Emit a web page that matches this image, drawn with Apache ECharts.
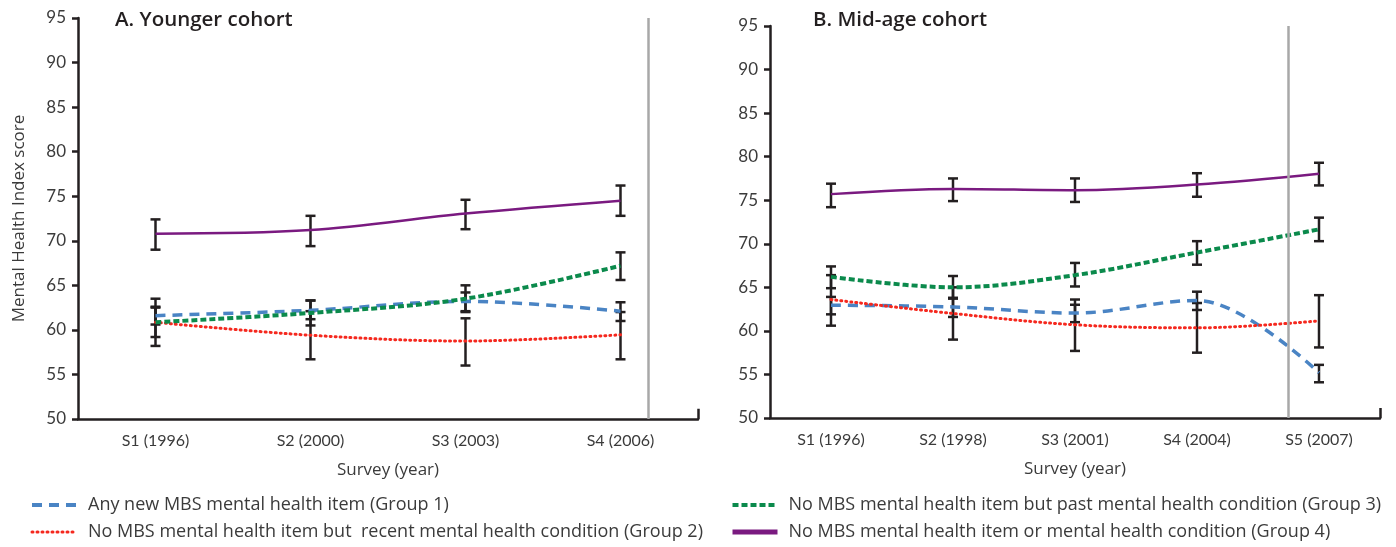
<!DOCTYPE html>
<html>
<head>
<meta charset="utf-8">
<script src="https://cdn.jsdelivr.net/npm/echarts@6/dist/echarts.min.js"></script>
<style>
  html, body { margin: 0; padding: 0; background: #fff; }
  #main { width: 1396px; height: 547px; }
</style>
</head>
<body>
<div id="main"></div>
<script>
// survey waves
const youngerWaves = ['S1 (1996)', 'S2 (2000)', 'S3 (2003)', 'S4 (2006)']
const midWaves = ['S1 (1996)', 'S2 (1998)', 'S3 (2001)', 'S4 (2004)', 'S5 (2007)']
const yTicks = [50, 95, 5]

const groupNames = [
  'Any new MBS mental health item (Group 1)',
  'No MBS mental health item but  recent mental health condition (Group 2)',
  'No MBS mental health item but past mental health condition (Group 3)',
  'No MBS mental health item or mental health condition (Group 4)'
]

// A. younger cohort: mean, lower CI, upper CI
const yG1 = [61.6, 62.2, 63.2, 62.1]
const yG1Lo = [60.6, 61.2, 62.1, 61.0]
const yG1Hi = [62.6, 63.3, 64.2, 63.1]
const yG2 = [60.85, 59.4, 58.75, 59.45]
const yG2Lo = [58.2, 56.7, 56.0, 56.7]
const yG2Hi = [63.5, 62.1, 61.3, 62.0]
const yG3 = [60.85, 61.9, 63.5, 67.2]
const yG3Lo = [59.2, 60.5, 62.0, 65.6]
const yG3Hi = [62.5, 63.3, 65.0, 68.7]
const yG4 = [70.8, 71.2, 73.05, 74.5]
const yG4Lo = [69.0, 69.4, 71.3, 72.8]
const yG4Hi = [72.4, 72.8, 74.6, 76.2]

// B. mid-age cohort
const mG1 = [62.95, 62.75, 62.05, 63.5, 55.2]
const mG1Lo = [61.9, 61.6, 61.0, 62.4, 54.1]
const mG1Hi = [63.9, 63.8, 63.0, 64.5, 56.1]
const mG2 = [63.6, 62.0, 60.7, 60.35, 61.15]
const mG2Lo = [60.6, 59.0, 57.7, 57.5, 58.1]
const mG2Hi = [66.4, 65.0, 63.6, 63.2, 64.1]
const mG3 = [66.2, 65.0, 66.4, 69.0, 71.65]
const mG3Lo = [64.9, 63.7, 65.1, 67.6, 70.3]
const mG3Hi = [67.4, 66.3, 67.8, 70.3, 73.0]
const mG4 = [75.7, 76.3, 76.15, 76.8, 78.05]
const mG4Lo = [74.2, 74.9, 74.8, 75.4, 76.7]
const mG4Hi = [76.9, 77.5, 77.5, 78.1, 79.3]

// grey divider position (in wave index units)
const dividerAt = [3.18, 3.75]

const FONT = 'Lato'
const WIDE = 'Open Sans'
const INK = '#231f20'
const TXT = '#3b3b3b'
const lineStyles = [
  { color: '#4a84c4', width: 3.5, type: [10, 7] },
  { color: '#f5281e', width: 3, type: [1, 4], cap: 'round' },
  { color: '#0b8a4c', width: 4, type: [6, 3] },
  { color: '#7a1a80', width: 2.5, type: 'solid' }
]
// legend swatches are drawn a bit heavier than the plot lines
const legendWidths = [4, 3, 4, 5]

function errorBars(lo, hi, xi, yi) {
  return {
    type: 'custom',
    xAxisIndex: xi,
    yAxisIndex: yi,
    z: 1,
    silent: true,
    data: lo.map(function (v, i) { return [i, v, hi[i]] }),
    renderItem: function (params, api) {
      var a = api.coord([api.value(0), api.value(1)])
      var b = api.coord([api.value(0), api.value(2)])
      var st = { stroke: INK, lineWidth: 2.5 }
      return {
        type: 'group',
        children: [
          { type: 'line', shape: { x1: a[0], y1: a[1], x2: b[0], y2: b[1] }, style: st },
          { type: 'line', shape: { x1: a[0] - 5, y1: a[1], x2: a[0] + 5, y2: a[1] }, style: st },
          { type: 'line', shape: { x1: b[0] - 5, y1: b[1], x2: b[0] + 5, y2: b[1] }, style: st }
        ]
      }
    }
  }
}

function meanLine(k, data, xi, yi) {
  return {
    name: groupNames[k],
    type: 'line',
    xAxisIndex: xi,
    yAxisIndex: yi,
    z: 3,
    smooth: 0.35,
    symbol: 'none',
    silent: true,
    lineStyle: lineStyles[k],
    itemStyle: { color: lineStyles[k].color },
    data: data
  }
}

// divider + axis end tick, drawn on a hidden value axis of the grid
function helper(xi, yi, pos, end) {
  return {
    type: 'line',
    xAxisIndex: xi,
    yAxisIndex: yi,
    data: [],
    silent: true,
    markLine: {
      symbol: 'none',
      label: { show: false },
      animation: false,
      data: [
        [{ coord: [pos, yTicks[0]], lineStyle: { color: '#a8a8a8', width: 2.5, type: 'solid' } },
         { coord: [pos, yTicks[1]] }],
        [{ coord: [end, yTicks[0]], lineStyle: { color: INK, width: 2.5, type: 'solid' } },
         { coord: [end, yTicks[0] + 1.15] }]
      ]
    }
  }
}

function catAxis(grid, cats) {
  return {
    type: 'category',
    gridIndex: grid,
    data: cats,
    boundaryGap: true,
    name: 'Survey (year)',
    nameLocation: 'middle',
    nameGap: 43,
    nameTextStyle: { fontFamily: WIDE, fontSize: 17, color: TXT },
    axisLine: { onZero: false, lineStyle: { color: INK, width: 2.5 } },
    axisTick: { alignWithLabel: true, inside: true, length: 10, lineStyle: { color: INK, width: 2.5 } },
    axisLabel: { margin: 14, fontFamily: FONT, fontSize: 16, color: TXT },
    splitLine: { show: false }
  }
}

function valAxis(grid, withName) {
  return {
    type: 'value',
    gridIndex: grid,
    min: yTicks[0],
    max: yTicks[1],
    interval: yTicks[2],
    name: withName ? 'Mental Health Index score' : '',
    nameLocation: 'middle',
    nameGap: 50,
    nameTextStyle: { fontFamily: WIDE, fontSize: 17, color: TXT },
    axisLine: { show: true, onZero: false, lineStyle: { color: INK, width: 2.5 } },
    axisTick: { show: true, length: 6, lineStyle: { color: INK, width: 2.5 } },
    axisLabel: { margin: 12, fontFamily: FONT, fontSize: 17, color: TXT },
    splitLine: { show: false }
  }
}

function legendBox(left, ks) {
  return {
    orient: 'vertical', left: left, top: 490, itemWidth: 45, itemHeight: 14, itemGap: 7,
    data: ks.map(function (k) {
      return { name: groupNames[k], lineStyle: { width: legendWidths[k] } }
    }),
    itemStyle: { opacity: 0 },
    textStyle: { fontFamily: WIDE, fontSize: 18, color: TXT, padding: [0, 0, 0, 6], lineHeight: 20 }
  }
}

var chart = echarts.init(document.getElementById('main'))

chart.setOption({
  animation: false,
  backgroundColor: '#fff',
  title: [
    { text: 'A. Younger cohort', left: 110, top: 5, textStyle: { fontFamily: WIDE, fontSize: 20.5, fontWeight: 600, color: INK } },
    { text: 'B. Mid-age cohort', left: 808, top: 5, textStyle: { fontFamily: WIDE, fontSize: 20.5, fontWeight: 600, color: INK } }
  ],
  grid: [
    { left: 78, top: 18, width: 620, height: 401 },
    { left: 770, top: 26, width: 610, height: 392 }
  ],
  legend: [
    legendBox(25, [0, 1]),
    legendBox(725, [2, 3])
  ],
  xAxis: [
    catAxis(0, youngerWaves),
    catAxis(1, midWaves),
    { type: 'value', gridIndex: 0, min: -0.5, max: youngerWaves.length - 0.5, show: false },
    { type: 'value', gridIndex: 1, min: -0.5, max: midWaves.length - 0.5, show: false }
  ],
  yAxis: [valAxis(0, true), valAxis(1, false)],
  series: [
    helper(2, 0, dividerAt[0], youngerWaves.length - 0.5),
    helper(3, 1, dividerAt[1], midWaves.length - 0.5),
    errorBars(yG1Lo, yG1Hi, 0, 0),
    errorBars(yG2Lo, yG2Hi, 0, 0),
    errorBars(yG3Lo, yG3Hi, 0, 0),
    errorBars(yG4Lo, yG4Hi, 0, 0),
    errorBars(mG1Lo, mG1Hi, 1, 1),
    errorBars(mG2Lo, mG2Hi, 1, 1),
    errorBars(mG3Lo, mG3Hi, 1, 1),
    errorBars(mG4Lo, mG4Hi, 1, 1),
    meanLine(0, yG1, 0, 0),
    meanLine(1, yG2, 0, 0),
    meanLine(2, yG3, 0, 0),
    meanLine(3, yG4, 0, 0),
    meanLine(0, mG1, 1, 1),
    meanLine(1, mG2, 1, 1),
    meanLine(2, mG3, 1, 1),
    meanLine(3, mG4, 1, 1)
  ]
})
</script>
</body>
</html>
